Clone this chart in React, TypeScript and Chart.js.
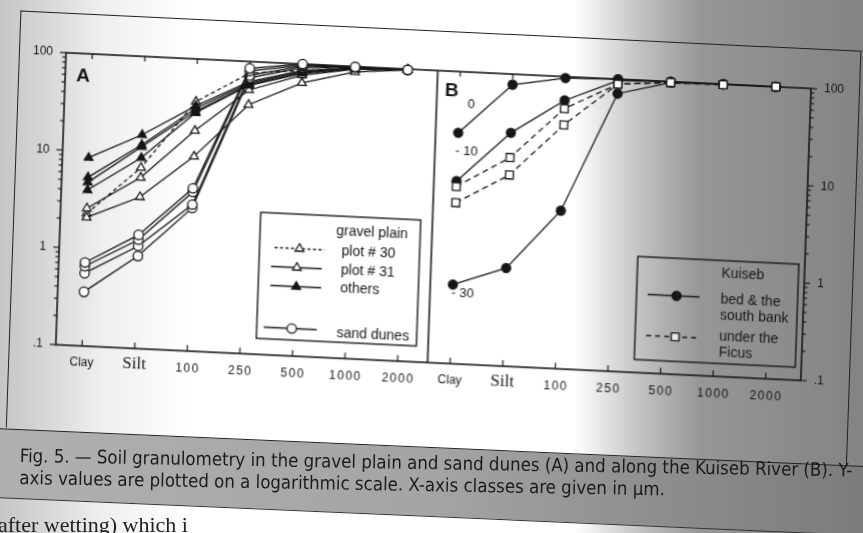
import React, { useEffect, useRef } from 'react';
import { Chart, registerables } from 'chart.js';

Chart.register(...registerables);

// ---- categories / ticks ----
const CLASSES = ['Clay', 'Silt', '100', '250', '500', '1000', '2000'];
const Y_TICKS = [0.1, 1, 10, 100];
const Y_TICK_LABELS = ['.1', '1', '10', '100'];
const B_OFFSET = 7;
const DIVIDER = 6.57;
const X_MIN = -0.5;
const X_MAX = 13.67;

// ---- Panel A : gravel plain ----
const PLOT30 = [2.3, 7.2, 36.5, 76, 86, 96, 98];
const PLOT31_A = [2.6, 5.7, 18.4, 51, 77, 94, 98];
const PLOT31_B = [2.1, 3.6, 10, 36, 64, 88, 98];
const OTHERS_1 = [8.6, 15.7, 33, 62, 86, 96, 98];
const OTHERS_2 = [5.4, 12.4, 31, 60, 84, 96, 98];
const OTHERS_3 = [4.8, 11.8, 29, 58, 82, 95, 98];
const OTHERS_4 = [4.0, 9.1, 28, 57, 80, 95, 98];
// ---- Panel A : sand dunes ----
const DUNES_1 = [0.72, 1.47, 4.7, 85, 100, 99, 98];
const DUNES_2 = [0.66, 1.31, 4.3, 80, 97, 99, 98];
const DUNES_3 = [0.56, 1.13, 3.2, 72, 95, 98, 98];
const DUNES_4 = [0.36, 0.89, 2.95, 68, 92, 98, 98];
// ---- Panel B : Kuiseb ----
const KUISEB_0 = [23.5, 78, 97, 100, 100, 100, 100];
const KUISEB_10 = [7.5, 25, 57, 97, 100, 100, 100];
const KUISEB_30 = [0.65, 1.02, 4.2, 71, 98, 100, 100];
const FICUS_1 = [6.6, 13.9, 47, 89, 98, 99, 100];
const FICUS_2 = [4.5, 9.2, 32, 89, 98, 99, 100];
const DEPTH_LABELS = ['0', '- 10', '- 30'];

const CAPTION_1 = 'Fig. 5. \u2014 Soil granulometry in the gravel plain and sand dunes (A) and along the Kuiseb River (B). Y-';
const CAPTION_2 = 'axis values are plotted on a logarithmic scale. X-axis classes are given in \u00b5m.';
const PAGE_TEXT = 'after wetting) which i';

const INK = '#161616';
const SANS = '"Liberation Sans", Arial, Helvetica, sans-serif';
const SERIF = '"Liberation Serif", "Times New Roman", serif';

const pts = (vals: number[], off: number) => vals.map((v, i) => ({ x: i + off, y: v }));

function drawMarker(ctx: CanvasRenderingContext2D, style: string, x: number, y: number, r: number, fill: string) {
  ctx.beginPath();
  if (style === 'triangle') {
    ctx.moveTo(x, y - r);
    ctx.lineTo(x + r * Math.cos(Math.PI / 6), y + r / 2);
    ctx.lineTo(x - r * Math.cos(Math.PI / 6), y + r / 2);
    ctx.closePath();
  } else if (style === 'rect') {
    const s = r * Math.SQRT1_2;
    ctx.rect(x - s, y - s, 2 * s, 2 * s);
  } else {
    ctx.arc(x, y, r, 0, Math.PI * 2);
  }
  ctx.fillStyle = fill;
  ctx.fill();
  ctx.setLineDash([]);
  ctx.lineWidth = 1.3;
  ctx.strokeStyle = INK;
  ctx.stroke();
}

function seg(ctx: CanvasRenderingContext2D, x1: number, y1: number, x2: number, y2: number) {
  ctx.beginPath();
  ctx.moveTo(x1, y1);
  ctx.lineTo(x2, y2);
  ctx.stroke();
}

function sample(ctx: CanvasRenderingContext2D, x1: number, x2: number, y: number, mx: number, dash: number[], style: string, r: number, fill: string) {
  ctx.strokeStyle = INK;
  ctx.lineWidth = 1.3;
  ctx.setLineDash(dash);
  seg(ctx, x1, y, x2, y);
  ctx.setLineDash([]);
  drawMarker(ctx, style, mx, y, r, fill);
}

function txt(ctx: CanvasRenderingContext2D, s: string, x: number, y: number, font: string, align: CanvasTextAlign = 'left') {
  ctx.font = font;
  ctx.fillStyle = INK;
  ctx.textAlign = align;
  ctx.textBaseline = 'middle';
  ctx.fillText(s, x, y);
}

const decorPlugin = {
  id: 'decor',
  beforeDatasetsDraw(chart: any) {
    const { ctx, chartArea: ca, scales } = chart;
    const xs = scales.x;
    const ys = scales.y;
    ctx.save();
    ctx.strokeStyle = INK;
    ctx.lineWidth = 1.6;
    ctx.strokeRect(ca.left, ca.top, ca.right - ca.left, ca.bottom - ca.top);
    const dx = xs.getPixelForValue(DIVIDER);
    seg(ctx, dx, ca.top, dx, ca.bottom);

    ctx.lineWidth = 1.2;
    [0, B_OFFSET].forEach((off) =>
      CLASSES.forEach((_, i) => {
        const px = xs.getPixelForValue(off + i);
        seg(ctx, px, ca.bottom, px, ca.bottom - 6);
        seg(ctx, px, ca.top, px, ca.top + 5);
      })
    );
    for (let e = -1; e <= 2; e++) {
      for (let m = 1; m <= 9; m++) {
        const v = m * Math.pow(10, e);
        if (v > 100.0001) break;
        const py = ys.getPixelForValue(v);
        const len = m === 1 ? 6 : 3.5;
        seg(ctx, ca.left - len, py, ca.left, py);
        seg(ctx, ca.right, py, ca.right + len, py);
      }
    }

    // y tick labels
    Y_TICKS.forEach((v, i) => {
      const py = ys.getPixelForValue(v);
      txt(ctx, Y_TICK_LABELS[i], ca.left - 13, py, `12px ${SANS}`, 'right');
      txt(ctx, Y_TICK_LABELS[i], ca.right + 13, py, `12px ${SANS}`, 'left');
    });

    // x tick labels
    [0, B_OFFSET].forEach((off) =>
      CLASSES.forEach((c, i) => {
        const px = xs.getPixelForValue(off + i);
        const ly = ca.bottom + 17;
        if (c === 'Clay') {
          txt(ctx, c, px, ly, `12px ${SANS}`, 'center');
        } else if (c === 'Silt') {
          txt(ctx, c, px, ly - 1, `17px ${SERIF}`, 'center');
        } else {
          (ctx as any).letterSpacing = '1.5px';
          txt(ctx, c, px + 1, ly + 1, `12px ${SANS}`, 'center');
          (ctx as any).letterSpacing = '0px';
        }
      })
    );

    // panel letters
    txt(ctx, 'A', xs.getPixelForValue(-0.16), ca.top + 23, `bold 19px ${SANS}`, 'center');
    txt(ctx, 'B', xs.getPixelForValue(B_OFFSET - 0.15), ca.top + 20, `bold 19px ${SANS}`, 'center');

    // depth labels in B
    const bx = xs.getPixelForValue(B_OFFSET);
    txt(ctx, DEPTH_LABELS[0], bx + 12, ys.getPixelForValue(KUISEB_0[0]) - 29, `13px ${SANS}`, 'center');
    txt(ctx, DEPTH_LABELS[1], bx + 9, ys.getPixelForValue(KUISEB_10[0]) - 30, `13px ${SANS}`, 'center');
    txt(ctx, DEPTH_LABELS[2], bx + 10, ys.getPixelForValue(KUISEB_30[0]) + 9, `13px ${SANS}`, 'center');
    ctx.restore();
  },
  afterDatasetsDraw(chart: any) {
    const { ctx } = chart;
    ctx.save();
    // legend A
    ctx.strokeStyle = INK;
    ctx.lineWidth = 1.4;
    ctx.strokeRect(260, 214, 160, 126);
    const f = `14px ${SANS}`;
    txt(ctx, 'gravel plain', 336, 229, f);
    txt(ctx, 'plot # 30', 342, 249.5, f);
    txt(ctx, 'plot # 31', 342, 268, f);
    txt(ctx, 'others', 342, 286.5, f);
    txt(ctx, 'sand dunes', 340, 331, f);
    sample(ctx, 275, 325, 248.5, 300, [3, 2.5], 'triangle', 5, '#fff');
    sample(ctx, 272, 323, 267.5, 298, [], 'triangle', 5, '#fff');
    sample(ctx, 272, 323, 286.5, 298, [], 'triangle', 5, INK);
    sample(ctx, 267, 320, 328.5, 295, [], 'circle', 4.7, '#fff');

    // legend B
    ctx.strokeStyle = INK;
    ctx.lineWidth = 1.4;
    ctx.strokeRect(638, 240, 161, 103);
    txt(ctx, 'Kuiseb', 722, 253, f);
    txt(ctx, 'bed & the', 722, 279.5, f);
    txt(ctx, 'south bank', 722, 295.5, f);
    txt(ctx, 'under the', 722, 316.5, f);
    txt(ctx, 'Ficus', 722, 332, f);
    sample(ctx, 649, 701, 277.5, 678, [], 'circle', 4.5, INK);
    sample(ctx, 649, 701, 318.5, 678, [5, 4], 'rect', 5.5, '#e8e8e8');
    ctx.restore();
  },
};

const lineBase = {
  borderColor: INK,
  borderWidth: 1.3,
  pointBorderColor: INK,
  pointBorderWidth: 1.3,
  clip: false as any,
  tension: 0,
};

function makeDatasets() {
  const plot31 = [PLOT31_A, PLOT31_B].map((d) => ({
    ...lineBase, data: pts(d, 0), pointStyle: 'triangle', pointRadius: 5, pointBackgroundColor: '#fff', order: 3,
  }));
  const plot30 = {
    ...lineBase, data: pts(PLOT30, 0), borderDash: [4, 3], pointStyle: 'triangle', pointRadius: 5, pointBackgroundColor: '#fff', order: 3,
  };
  const others = [OTHERS_1, OTHERS_2, OTHERS_3, OTHERS_4].map((d) => ({
    ...lineBase, data: pts(d, 0), pointStyle: 'triangle', pointRadius: 5, pointBackgroundColor: INK, order: 2,
  }));
  const dunes = [DUNES_1, DUNES_2, DUNES_3, DUNES_4].map((d) => ({
    ...lineBase, data: pts(d, 0), pointStyle: 'circle', pointRadius: 4.7, pointBackgroundColor: '#fff', order: 1,
  }));
  const kuiseb = [KUISEB_0, KUISEB_10, KUISEB_30].map((d) => ({
    ...lineBase, data: pts(d, B_OFFSET), pointStyle: 'circle', pointRadius: 4.5, pointBackgroundColor: INK, order: 2,
  }));
  const ficus = [FICUS_1, FICUS_2].map((d) => ({
    ...lineBase, data: pts(d, B_OFFSET), borderDash: [6, 4], pointStyle: 'rect', pointRadius: 5.5, pointBackgroundColor: '#fff', order: 0,
  }));
  return [...plot31, plot30, ...others, ...dunes, ...kuiseb, ...ficus];
}

export default function App() {
  const ref = useRef<HTMLCanvasElement>(null);
  useEffect(() => {
    const chart = new Chart(ref.current as HTMLCanvasElement, {
      type: 'line',
      data: { datasets: makeDatasets() as any },
      options: {
        responsive: false,
        animation: false,
        devicePixelRatio: 1,
        events: [],
        layout: { padding: { left: 60, right: 58, top: 64, bottom: 64 } },
        scales: {
          x: { type: 'linear', min: X_MIN, max: X_MAX, display: false },
          y: { type: 'logarithmic', min: 0.1, max: 100, display: false },
        },
        plugins: { legend: { display: false }, tooltip: { enabled: false } },
      } as any,
      plugins: [decorPlugin as any],
    });
    return () => chart.destroy();
  }, []);

  return (
    <div
      style={{
        position: 'absolute', left: 0, top: 0, width: 863, height: 533, overflow: 'hidden',
        background:
          'linear-gradient(90deg, rgba(150,150,150,0.55) 0px, rgba(165,165,165,0.45) 45px, rgba(200,200,200,0.3) 100px, rgba(255,255,255,0) 190px, rgba(255,255,255,0) 575px, rgba(120,120,120,0.45) 640px, rgba(110,110,110,0.72) 700px, rgba(100,100,100,0.8) 863px), #ffffff',
      }}
    >
      <div
        style={{
          position: 'absolute', left: 0, top: 0, width: 863, height: 460,
          transformOrigin: '0 0', transform: 'matrix(1, 0.048, -0.035, 1, 8.24, -14.18)',
        }}
      >
        <div
          style={{
            position: 'absolute', left: 13, top: 24, width: 841, height: 417, boxSizing: 'border-box',
            borderTop: '1.5px solid #222', borderLeft: '1.5px solid #222', borderRight: '1.5px solid #222',
          }}
        />
        <canvas ref={ref} width={863} height={420} style={{ position: 'absolute', left: 0, top: 0, width: 863, height: 420 }} />
      </div>
      <div
        style={{
          position: 'absolute', left: -5, top: 428, width: 880, height: 70, boxSizing: 'border-box',
          transformOrigin: '0 0', transform: 'skewY(2.5deg)',
          background: 'linear-gradient(90deg, #b0b0b0 0%, #a4a4a4 50%, #8e8e8e 75%, #7a7a7a 100%)',
          borderTop: '1.5px solid #222', borderBottom: '1.5px solid #333',
        }}
      />
      <div
        style={{
          position: 'absolute', left: 20, top: 445, transformOrigin: '0 0', transform: 'rotate(1deg)',
          fontFamily: '"DejaVu Sans Condensed", "Liberation Sans Narrow", Arial, sans-serif',
          fontSize: 18.5, lineHeight: '22px', letterSpacing: '0px', color: '#1a1a1a', whiteSpace: 'nowrap',
        }}
      >
        <div>{CAPTION_1}</div>
        <div>{CAPTION_2}</div>
      </div>
      <div
        style={{
          position: 'absolute', left: -2, top: 512, fontFamily: SERIF, fontSize: 22, color: '#222', whiteSpace: 'nowrap',
        }}
      >
        {PAGE_TEXT}
      </div>
    </div>
  );
}
